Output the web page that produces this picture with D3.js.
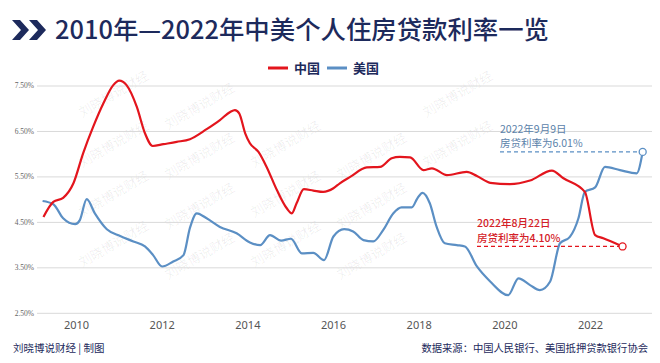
<!DOCTYPE html>
<html>
<head>
<meta charset="utf-8">
<script src="https://cdn.jsdelivr.net/npm/d3@7/dist/d3.min.js"></script>
<style>
  html, body { margin: 0; padding: 0; background: #fff; }
  svg { display: block; font-family: "Noto Sans CJK SC", "Noto Sans", sans-serif; }
</style>
</head>
<body>
<svg id="chart" width="660" height="363"></svg>
<script>
// ---- data (decimal year, rate %) ----
const chinaYears = [2009.24,2009.47,2009.70,2009.94,2010.17,2010.40,2010.64,2010.87,2011.01,2011.18,2011.42,2011.61,2011.79,2012.04,2012.35,2012.66,2013.05,2013.36,2013.60,2013.71,2013.81,2013.95,2014.06,2014.26,2014.45,2014.69,2014.92,2015.04,2015.15,2015.32,2015.54,2015.77,2016.01,2016.16,2016.40,2016.79,2017.10,2017.37,2017.56,2017.80,2018.11,2018.31,2018.66,2019.12,2019.36,2019.67,2020.13,2020.60,2021.11,2021.38,2021.88,2022.12,2022.31,2022.76];
const chinaRates = [4.62,4.95,5.04,5.36,6.03,6.60,7.12,7.52,7.62,7.52,7.04,6.46,6.18,6.22,6.27,6.33,6.55,6.75,6.93,6.97,6.90,6.46,6.24,6.05,5.72,5.21,4.81,4.70,4.92,5.23,5.20,5.17,5.25,5.36,5.50,5.71,5.72,5.91,5.94,5.93,5.65,5.69,5.54,5.61,5.52,5.37,5.34,5.42,5.64,5.47,5.17,4.22,4.15,3.97];
const usYears = [2009.22,2009.47,2009.70,2009.98,2010.09,2010.25,2010.44,2010.72,2011.03,2011.34,2011.61,2011.80,2012.01,2012.27,2012.51,2012.66,2012.82,2013.05,2013.36,2013.75,2014.06,2014.30,2014.53,2014.79,2015.02,2015.27,2015.54,2015.79,2016.01,2016.26,2016.47,2016.71,2016.94,2017.17,2017.41,2017.60,2017.84,2017.97,2018.09,2018.26,2018.42,2018.61,2018.89,2019.08,2019.36,2019.67,2020.09,2020.33,2020.60,2020.83,2021.07,2021.30,2021.53,2021.73,2021.88,2022.12,2022.35,2022.70,2023.09,2023.23];
const usRates = [4.97,4.90,4.59,4.46,4.55,5.01,4.70,4.35,4.20,4.08,3.97,3.78,3.53,3.64,3.78,4.38,4.70,4.59,4.40,4.26,4.06,4.00,4.22,4.10,4.14,3.82,3.83,3.67,4.19,4.35,4.30,4.11,4.08,4.33,4.70,4.83,4.83,5.03,5.15,4.92,4.40,4.04,4.00,3.97,3.53,3.20,2.90,3.27,3.12,3.01,3.20,4.04,4.18,4.59,5.17,5.27,5.72,5.65,5.58,6.05];

const yTicks = [2.5, 3.5, 4.5, 5.5, 6.5, 7.5];
const yTickLabels = ["2.50%","3.50%","4.50%","5.50%","6.50%","7.50%"];
const xTicks = [2010, 2012, 2014, 2016, 2018, 2020, 2022];
const seriesNames = ["中国", "美国"];
const seriesColors = ["#e3151d", "#5b8fc4"];
const titleText = "2010年—2022年中美个人住房贷款利率一览";
const annoUS = ["2022年9月9日", "房贷利率为6.01%"];
const annoCN = ["2022年8月22日", "房贷利率为4.10%"];
const footerLeft = "刘晓博说财经 | 制图";
const footerRight = "数据来源：中国人民银行、美国抵押贷款银行协会";
const watermark = "刘晓博说财经";

const svg = d3.select("#chart");
const W = 660, H = 363;
const x = d3.scaleLinear().domain([2010, 2022]).range([76, 590]);
const y = d3.scaleLinear().domain([2.5, 7.5]).range([313.3, 86]);
const navy = "#1d2a5c";

const wmLayer = svg.append("g").attr("class", "watermark");
const main = svg.append("g");

// title chevrons
const chev = main.append("g").attr("fill", navy);
[12, 29].forEach(ox => {
  chev.append("path").attr("d", `M${ox},20 L${ox+8},20 L${ox+17},30 L${ox+8},40 L${ox},40 L${ox+9},30 Z`);
});
main.append("text")
  .attr("x", 55).attr("y", 39)
  .attr("font-size", 25).attr("font-weight", 500)
  .attr("fill", navy)
  .attr("textLength", 494).attr("lengthAdjust", "spacingAndGlyphs")
  .text(titleText);

// legend
const legX = [268, 327];
seriesNames.forEach((n, i) => {
  main.append("line").attr("x1", legX[i]).attr("x2", legX[i] + 20)
    .attr("y1", 68).attr("y2", 68)
    .attr("stroke", seriesColors[i]).attr("stroke-width", 3);
  main.append("text").attr("x", legX[i] + 26).attr("y", 73)
    .attr("font-size", 13).attr("font-weight", 700).attr("fill", navy).text(n);
});

// gridlines + y labels
yTicks.forEach((t, i) => {
  main.append("line").attr("x1", 37).attr("x2", 652)
    .attr("y1", y(t)).attr("y2", y(t))
    .attr("stroke", "#d9d9d9").attr("stroke-width", 1);
  main.append("text").attr("x", 34).attr("y", y(t)).attr("dy", "0.32em")
    .attr("text-anchor", "end").attr("font-size", 7.5)
    .attr("font-family", "Liberation Serif, serif")
    .attr("fill", "#666").text(yTickLabels[i]);
});

// x axis
const xAxis = main.append("g").attr("transform", `translate(0,${y(2.5)})`)
  .call(d3.axisBottom(x).tickValues(xTicks).tickFormat(d3.format("d")).tickSize(0).tickPadding(8));
xAxis.select(".domain").remove();
xAxis.selectAll("text").attr("font-size", 11).attr("fill", "#555")
  .attr("font-family", "Noto Sans, sans-serif");

// lines
const line = d3.line().x(d => x(d[0])).y(d => y(d[1])).curve(d3.curveMonotoneX);
const cn = chinaYears.map((v, i) => [v, chinaRates[i]]);
const us = usYears.map((v, i) => [v, usRates[i]]);
const cnLast = cn[cn.length - 1], usLast = us[us.length - 1];

main.append("line").attr("x1", 500).attr("x2", x(usLast[0]))
  .attr("y1", y(usLast[1])).attr("y2", y(usLast[1]))
  .attr("stroke", "#5b8fc4").attr("stroke-width", 1.2).attr("stroke-dasharray", "4,3");
main.append("line").attr("x1", 477).attr("x2", x(cnLast[0]))
  .attr("y1", y(cnLast[1])).attr("y2", y(cnLast[1]))
  .attr("stroke", "#e3151d").attr("stroke-width", 1.2).attr("stroke-dasharray", "4,3");

main.append("path").datum(us).attr("d", line).attr("fill", "none")
  .attr("stroke", seriesColors[1]).attr("stroke-width", 2.2);
main.append("path").datum(cn).attr("d", line).attr("fill", "none")
  .attr("stroke", seriesColors[0]).attr("stroke-width", 2.2);

main.append("circle").attr("cx", x(usLast[0])).attr("cy", y(usLast[1])).attr("r", 3.5)
  .attr("fill", "#fff").attr("stroke", "#5b8fc4").attr("stroke-width", 1.3);
main.append("circle").attr("cx", x(cnLast[0])).attr("cy", y(cnLast[1])).attr("r", 3.5)
  .attr("fill", "#fff").attr("stroke", "#e3151d").attr("stroke-width", 1.3);

annoUS.forEach((t, i) => {
  main.append("text").attr("x", 500).attr("y", 133 + i * 14)
    .attr("font-size", 10.5).attr("fill", "#5b82aa").text(t);
});
annoCN.forEach((t, i) => {
  main.append("text").attr("x", 477).attr("y", 227 + i * 14.5)
    .attr("font-size", 10.5).attr("font-weight", 500).attr("fill", "#d42027").text(t);
});

main.append("text").attr("x", 13).attr("y", 352).attr("font-size", 10.5)
  .attr("fill", navy).text(footerLeft);
main.append("text").attr("x", 648).attr("y", 352).attr("text-anchor", "end")
  .attr("font-size", 10.3).attr("fill", navy).text(footerRight);

// watermark: faint rotated text, kept inside the frame and off other texts
const boxes = [];
main.selectAll("text").each(function() {
  const b = this.getBoundingClientRect();
  boxes.push({l: b.left - 1, r: b.right + 1, t: b.top - 1, b: b.bottom + 1});
});
const hit = (b) => boxes.some(o => !(b.right < o.l || b.left > o.r || b.bottom < o.t || b.top > o.b));
for (let r = 0; r < 8; r++) {
  for (let c = 0; c < 9; c++) {
    const cx = 30 + c * 86;
    const cy = 60 + r * 50 - (c % 2) * 12;
    const t = wmLayer.append("text")
      .attr("transform", `translate(${cx},${cy}) rotate(-30)`)
      .attr("text-anchor", "middle")
      .attr("font-size", 13)
      .attr("fill", "#000")
      .attr("fill-opacity", 0.07)
      .text(watermark);
    const b = t.node().getBoundingClientRect();
    if (b.left < 1 || b.right > W - 1 || b.top < 1 || b.bottom > H - 1 || hit(b)) t.remove();
  }
}
</script>
</body>
</html>
